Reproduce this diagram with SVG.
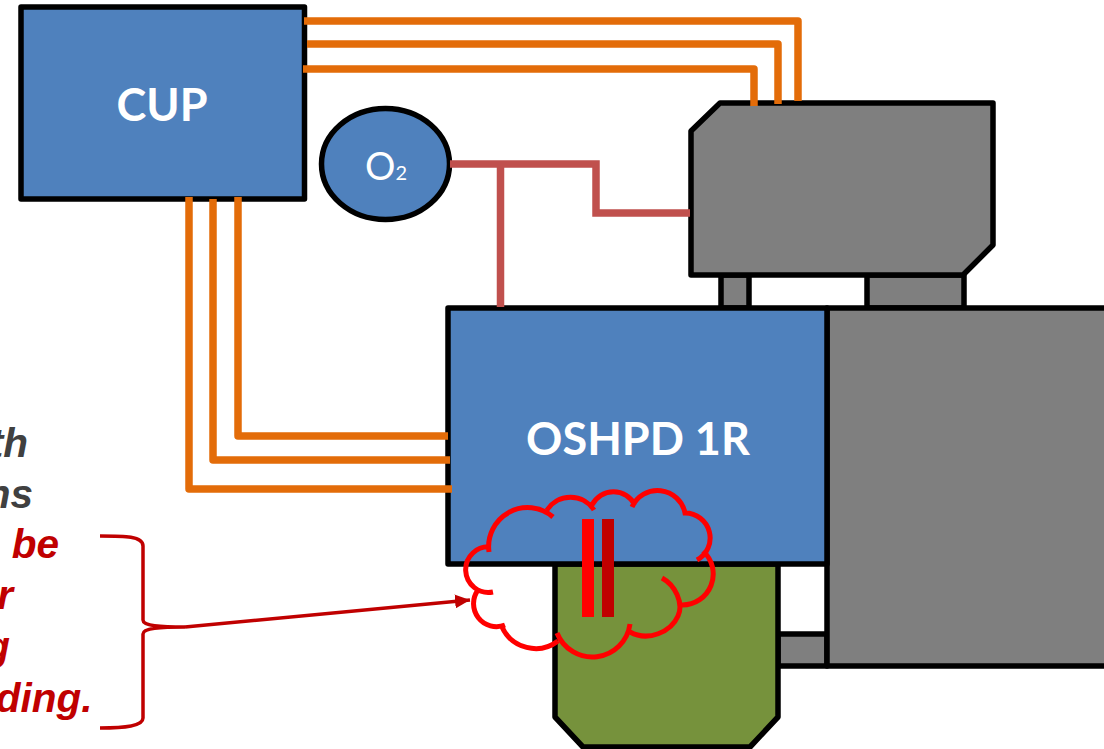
<svg xmlns="http://www.w3.org/2000/svg" width="1104" height="749" viewBox="0 0 1104 749">
<style>
.box{stroke:#000;stroke-width:5.5;stroke-linejoin:round}
.blue{fill:#4f81bd}.gray{fill:#7f7f7f}.green{fill:#76923c}
.or{fill:none;stroke:#e36c09;stroke-width:7.5;stroke-linejoin:round}
.rd{fill:none;stroke:#c0504d;stroke-width:7.5}
.lbl{font-family:Lato,"Open Sans",sans-serif;font-weight:700;fill:#fff;text-anchor:middle}
.note{font-family:"Liberation Sans",Arial,sans-serif;font-weight:700;font-style:italic;font-size:40.500px;text-anchor:end}
.cloud{fill:none;stroke:#f00;stroke-width:5}
.brace{fill:none;stroke:#c00000;stroke-width:3.5}
</style>
<defs><marker id="ah" markerUnits="userSpaceOnUse" markerWidth="16" markerHeight="14" refX="15" refY="7" orient="auto"><path d="M0 0L15 7L0 14Z" fill="#c00000"/></marker></defs>
<g id="leg-small"><rect class="box gray" x="721" y="275" width="28" height="33"/></g>
<g id="leg-large"><rect class="box gray" x="867" y="275" width="97" height="33"/></g>
<g id="leg-lower"><rect class="box gray" x="778" y="634" width="49" height="32"/></g>
<g id="chiller"><path class="box gray" d="M691 131L720 103H993V245L963 275H691Z"/></g>
<g id="cup"><rect class="box blue" x="21" y="7" width="283.500" height="192"/><text class="lbl" x="162" y="121" font-size="45">CUP</text></g>
<g id="o2"><ellipse class="box blue" cx="385.500" cy="164" rx="64" ry="55.500"/><text x="365" y="180" font-family="Lato,'Open Sans',sans-serif" font-size="38" fill="#fff">O<tspan font-size="20">2</tspan></text></g>
<g id="gray-block"><rect class="box gray" x="827" y="308" width="290" height="358"/></g>
<g id="green-block"><path class="box green" d="M555 564H778V717L750 747H583L555 717Z"/></g>
<g id="oshpd"><rect class="box blue" x="448" y="308" width="379" height="256"/><text class="lbl" x="638" y="455" font-size="45">OSHPD 1R</text></g>
<g id="connectors">
<path class="or" d="M304 21H798V101M307 44H778V104M303 69H754V106"/>
<path class="or" d="M238 197V436H448M213 199V460H450M189 197V489H452"/>
<path class="rd" d="M450 164H596V213H690M500.500 164V307"/>
</g>
<g id="note">
<text class="note" x="28" y="456.500" fill="#404040">th</text>
<text class="note" x="33" y="507.500" fill="#404040">ns</text>
<text class="note" x="59" y="558" fill="#c00000">be</text>
<text class="note" x="13" y="609" fill="#c00000">r</text>
<text class="note" x="10" y="660" fill="#c00000">g</text>
<text class="note" x="92.500" y="711.500" fill="#c00000">ding.</text>
</g>
<g id="brace">
<path class="brace" d="M100 536C125 536 143 536 143 546V620C143 626 160 627 185 627C160 627 143 628 143 634V718C143 726 125 728 100 728"/>
<path class="brace" marker-end="url(#ah)" d="M185 627L470 600"/>
</g>
<g id="cloud">
<path class="cloud" d="M489 552A39 39 0 0 1 553 517M547 510A28 28 0 0 1 594 510M592 505A24 24 0 0 1 635 505M632 507A28 28 0 0 1 685 513A25 25 0 0 1 697 560M703 551A31 31 0 0 1 682 605M662 578C675 585 684 603 678 616C671 632 648 642 630 632M630 624A38 38 0 0 1 557 633M558 641A37 37 0 0 1 502 627M505 625A23 23 0 0 1 478 590M493 592A22.800 22.800 0 1 1 491 547"/>
<rect x="582" y="519" width="12" height="98" fill="#f00"/>
<rect x="602" y="519" width="12" height="98" fill="#c00000"/>
</g>
</svg>
